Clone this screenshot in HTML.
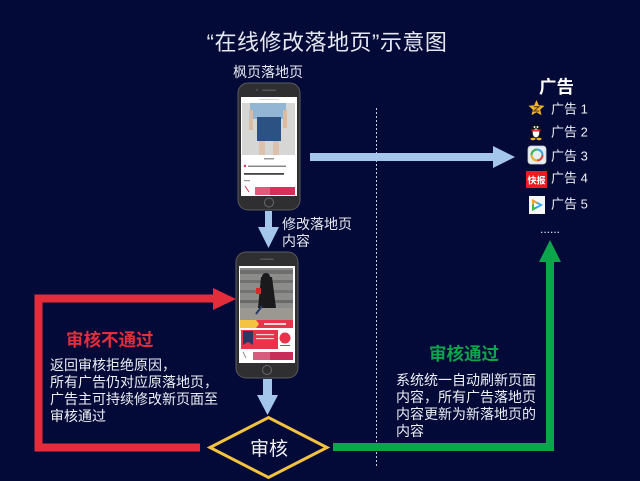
<!DOCTYPE html>
<html><head><meta charset="utf-8">
<style>
html,body{margin:0;padding:0;background:#040a38;}
svg{display:block;}
text{font-family:"Liberation Sans","Noto Sans CJK SC","WenQuanYi Zen Hei",sans-serif;}
</style></head>
<body>
<svg width="640" height="481" viewBox="0 0 640 481" xmlns="http://www.w3.org/2000/svg">
<rect width="640" height="481" fill="#040a38"/>

<!-- title -->
<text x="327" y="50" font-size="22" fill="#e6e8f0" text-anchor="middle" letter-spacing="0.5">“在线修改落地页”示意图</text>
<text x="268" y="77" font-size="14" fill="#e6e8f0" text-anchor="middle">枫页落地页</text>

<!-- dotted divider -->
<line x1="376.5" y1="108" x2="376.5" y2="468" stroke="#c9cbd8" stroke-width="1" stroke-dasharray="2,2"/>

<!-- blue horizontal arrow -->
<rect x="310" y="153" width="184" height="8" fill="#a3c6ea"/>
<polygon points="493,146 515,157 493,168" fill="#a3c6ea"/>

<!-- blue down arrow 1 -->
<rect x="265" y="211" width="7" height="17" fill="#a3c6ea"/>
<polygon points="258,227 279,227 268.5,248" fill="#a3c6ea"/>
<text x="282" y="229" font-size="14" fill="#e6e8f0">修改落地页</text>
<text x="282" y="246" font-size="14" fill="#e6e8f0">内容</text>

<!-- blue down arrow 2 -->
<rect x="263" y="379" width="9" height="17" fill="#a3c6ea"/>
<polygon points="257,395 278,395 267.5,415" fill="#a3c6ea"/>

<!-- red arrow -->
<polyline points="200,447.5 38.5,447.5 38.5,298.5 214,298.5" fill="none" stroke="#e42d3b" stroke-width="8" stroke-linejoin="miter"/>
<polygon points="213,288 236,299 213,310" fill="#e42d3b"/>

<!-- green arrow -->
<polyline points="333,447 550,447 550,261" fill="none" stroke="#0ba54b" stroke-width="8" stroke-linejoin="miter"/>
<polygon points="539,262 561,262 550,240" fill="#0ba54b"/>

<!-- diamond -->
<polygon points="210,447.5 268.5,417.5 327,447.5 268.5,477.5" fill="#040a38" stroke="#f3c23f" stroke-width="3"/>
<text x="269" y="455" font-size="19" fill="#f0f0f4" text-anchor="middle">审核</text>

<!-- red texts -->
<text x="66" y="346" font-size="17.5" font-weight="bold" fill="#e42d3b">审核不通过</text>
<text x="50" y="370" font-size="14" fill="#eceef4">返回审核拒绝原因，</text>
<text x="50" y="387" font-size="14" fill="#eceef4">所有广告仍对应原落地页，</text>
<text x="50" y="404" font-size="14" fill="#eceef4">广告主可持续修改新页面至</text>
<text x="50" y="421" font-size="14" fill="#eceef4">审核通过</text>

<!-- green texts -->
<text x="429" y="360" font-size="17.5" font-weight="bold" fill="#0ba54b">审核通过</text>
<text x="396" y="385" font-size="14" fill="#eceef4">系统统一自动刷新页面</text>
<text x="396" y="402" font-size="14" fill="#eceef4">内容，所有广告落地页</text>
<text x="396" y="419" font-size="14" fill="#eceef4">内容更新为新落地页的</text>
<text x="396" y="436" font-size="14" fill="#eceef4">内容</text>

<!-- ads list -->
<text x="556.5" y="93" font-size="17.5" font-weight="bold" fill="#ffffff" text-anchor="middle">广告</text>
<text x="551" y="113.5" font-size="13" fill="#eceef4">广告 1</text>
<text x="551" y="136.5" font-size="13" fill="#eceef4">广告 2</text>
<text x="551" y="160.5" font-size="13" fill="#eceef4">广告 3</text>
<text x="551" y="182.5" font-size="13" fill="#eceef4">广告 4</text>
<text x="551" y="208.5" font-size="13" fill="#eceef4">广告 5</text>
<text x="540" y="233" font-size="12" fill="#eceef4">......</text>

<!-- icon 1 star -->
<polygon points="536.5,100 538.8,105.3 544.5,105.8 540.2,109.6 541.5,115.2 536.5,112.3 531.5,115.2 532.8,109.6 528.5,105.8 534.2,105.3" fill="#f1b52c"/>
<path d="M533.8,106.6 L539,106.6 L533.8,111 L539.2,111" fill="none" stroke="#6b4a10" stroke-width="1.2"/>

<!-- icon 2 QQ -->
<ellipse cx="536" cy="131" rx="5" ry="7" fill="#111"/>
<ellipse cx="536" cy="133" rx="3.3" ry="4.5" fill="#fff"/>
<rect x="531.5" y="129.5" width="9" height="2" fill="#e4242a"/>
<circle cx="534.5" cy="127" r="1" fill="#fff"/>
<circle cx="537.5" cy="127" r="1" fill="#fff"/>
<ellipse cx="533" cy="139" rx="2.5" ry="1.2" fill="#f2b21e"/>
<ellipse cx="539" cy="139" rx="2.5" ry="1.2" fill="#f2b21e"/>

<!-- icon 3 -->
<rect x="528" y="146" width="18" height="18" rx="3" fill="#e9eef2" stroke="#c8ced6" stroke-width="0.8"/>
<circle cx="537" cy="155" r="5.5" fill="none" stroke="#3aa0e8" stroke-width="2"/>
<path d="M531.5,155 A5.5,5.5 0 0 0 537,160.5" fill="none" stroke="#f2b02a" stroke-width="2"/>
<path d="M537,149.5 A5.5,5.5 0 0 0 531.5,155" fill="none" stroke="#3cb84a" stroke-width="2"/>
<path d="M537,160.5 A5.5,5.5 0 0 0 542.5,155" fill="none" stroke="#e84a3a" stroke-width="2"/>

<!-- icon 4 -->
<rect x="526" y="171" width="21" height="17" fill="#f01920"/>
<text x="536.5" y="183.5" font-size="9" font-weight="bold" fill="#ffffff" text-anchor="middle">快报</text>

<!-- icon 5 -->
<rect x="529" y="196" width="16" height="18" fill="#f4f6f8"/>
<polygon points="532,199 543,205 532,211" fill="#2fa6e8"/>
<polygon points="532,199 538,202.3 532,205" fill="#f2a12a"/>
<polygon points="532,205 538,207.7 532,211" fill="#3cba4a"/>
<polygon points="534,202.5 539.5,205 534,207.5" fill="#fff"/>

<!-- phone 1 -->
<rect x="238" y="83" width="62" height="127" rx="10" fill="#2f2f31" stroke="#5a5a5e" stroke-width="1"/>
<rect x="262" y="89.5" width="14" height="1.5" rx="0.7" fill="#555"/>
<circle cx="257" cy="90" r="1" fill="#555"/>
<rect x="241" y="97" width="56" height="99" fill="#ffffff"/>
<rect x="259" y="99" width="20" height="1" fill="#d8d8d8"/>
<rect x="242" y="103" width="53" height="52" fill="#d6d6d4"/>
<rect x="250" y="103" width="36" height="16" fill="#93b6d4"/>
<rect x="257" y="117" width="24" height="24" fill="#2b5282"/>
<rect x="249" y="110" width="4" height="20" fill="#d8bca6"/>
<rect x="283" y="110" width="4" height="18" fill="#d8bca6"/>
<rect x="259" y="141" width="6" height="14" fill="#dcc2ad"/>
<rect x="273" y="141" width="6" height="14" fill="#dcc2ad"/>
<rect x="264" y="158" width="10" height="1.5" fill="#999"/>
<circle cx="245" cy="166" r="1.2" fill="#d9305a"/>
<rect x="248" y="165.5" width="38" height="1.5" fill="#888"/>
<rect x="244" y="173" width="40" height="1.8" fill="#444"/>
<rect x="244" y="180" width="6" height="1.2" fill="#999"/>
<path d="M245,186 L249,192" stroke="#d9305a" stroke-width="1"/>
<rect x="255" y="187" width="40" height="8" fill="#d92d5a"/>
<rect x="255" y="187" width="15" height="8" fill="#e05a7c"/>
<circle cx="269" cy="202.5" r="4.5" fill="none" stroke="#6a6a6e" stroke-width="1"/>

<!-- phone 2 -->
<rect x="236" y="252" width="62" height="126" rx="10" fill="#2f2f31" stroke="#5a5a5e" stroke-width="1"/>
<rect x="260" y="258.5" width="14" height="1.5" rx="0.7" fill="#555"/>
<rect x="239" y="266" width="56" height="97" fill="#ffffff"/>
<rect x="240" y="268" width="53" height="52" fill="#8c8c8a"/>
<rect x="240" y="270" width="53" height="4" fill="#6e6e6e"/>
<rect x="240" y="280" width="53" height="3" fill="#707070"/>
<rect x="240" y="290" width="53" height="3" fill="#747474"/>
<rect x="240" y="300" width="53" height="3" fill="#6a6a6a"/>
<rect x="240" y="308" width="53" height="12" fill="#9a9890"/>
<path d="M261,277 L272,277 L276,308 L258,308 Z" fill="#1a1a1c"/>
<circle cx="266" cy="277" r="4" fill="#1a1a1c"/>
<rect x="256" y="288" width="5" height="6" fill="#d42a2a"/>
<path d="M262,306 L256,314" stroke="#2a3a6a" stroke-width="2"/>
<rect x="240" y="320" width="53" height="8" fill="#e8334a"/>
<polygon points="240,320 256,320 259,324 256,328 240,328" fill="#f5c342"/>
<rect x="264" y="323" width="22" height="2" fill="#ffd0d6"/>
<rect x="240" y="330" width="53" height="19" fill="#ffffff"/>
<rect x="241" y="330" width="37" height="19" fill="#e8334a"/>
<polygon points="243,331 253,331 253,345 248,342 243,345" fill="#2a3866"/>
<rect x="256" y="334" width="18" height="1.2" fill="#ffd0d6"/>
<rect x="256" y="338" width="18" height="1.2" fill="#ffd0d6"/>
<circle cx="285" cy="338" r="5.5" fill="#e8334a"/>
<rect x="280" y="345" width="10" height="1" fill="#e8334a"/>
<path d="M243,352 L246,358" stroke="#888" stroke-width="1"/>
<rect x="253" y="352" width="40" height="8" fill="#c82c58"/>
<rect x="253" y="352" width="17" height="8" fill="#d85a7c"/>
<circle cx="267" cy="370" r="4.5" fill="none" stroke="#6a6a6e" stroke-width="1"/>
</svg>
</body></html>
